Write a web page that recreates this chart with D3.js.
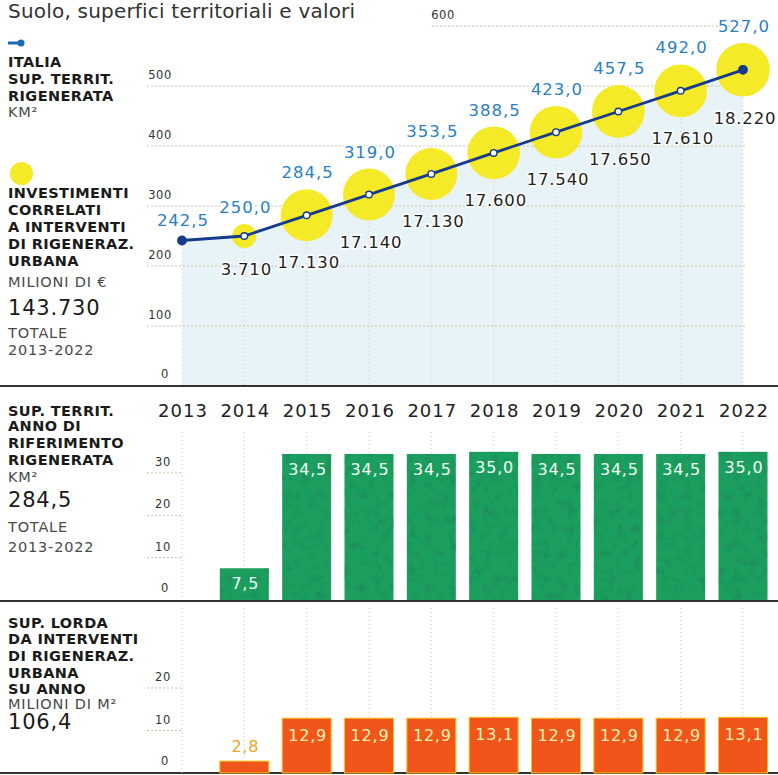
<!DOCTYPE html>
<html>
<head>
    <meta charset="UTF-8">
    <style>
        body { margin: 0; background: #fff; }
        svg { display: block; font-family: "DejaVu Sans", sans-serif; }
        .bold { font-weight: bold; font-size: 14.5px; fill: #1a1a1a; letter-spacing: 0.4px; }
        .reg { font-size: 14.5px; fill: #4a4a4a; letter-spacing: 0.8px; }
        .big { font-size: 21px; fill: #1a1a1a; letter-spacing: 0.8px; }
        .tick { font-size: 11.5px; fill: #333; letter-spacing: 0.6px; }
        .grid { stroke: #c9c3a6; stroke-width: 1; stroke-dasharray: 2,2; }
        .vgrid { stroke: #c8ced2; stroke-width: 1; stroke-dasharray: 1,3; }
    </style>
</head>
<body>
    <script src="https://cdn.jsdelivr.net/npm/d3@7"></script>
    <script>
// dati
var years = [2013, 2014, 2015, 2016, 2017, 2018, 2019, 2020, 2021, 2022];
var superficie = [242.5, 250.0, 284.5, 319.0, 353.5, 388.5, 423.0, 457.5, 492.0, 527.0];
var investimenti = [null, 3710, 17130, 17140, 17130, 17600, 17540, 17650, 17610, 18220];
var supAnnua = [null, 7.5, 34.5, 34.5, 34.5, 35.0, 34.5, 34.5, 34.5, 35.0];
var supLorda = [null, 2.8, 12.9, 12.9, 12.9, 13.1, 12.9, 12.9, 12.9, 13.1];
var ticksTop = [0, 100, 200, 300, 400, 500, 600];
var ticksMid = [0, 10, 20, 30];
var ticksBot = [0, 10, 20];

var width = 778, height = 775;
var svg = d3.select("body").append("svg").attr("width", width).attr("height", height);

// grana di stampa sulle barre verdi
var filt = svg.append("defs").append("filter").attr("id", "grana")
    .attr("x", 0).attr("y", 0).attr("width", 1).attr("height", 1);
filt.append("feTurbulence").attr("type", "fractalNoise").attr("baseFrequency", 0.12)
    .attr("numOctaves", 3).attr("seed", 7).attr("result", "noise");
filt.append("feColorMatrix").attr("in", "noise").attr("type", "matrix")
    .attr("values", "0 0 0 0 0.02  0 0 0 0 0.2  0 0 0 0 0.1  0 0 0 -1.6 0.75").attr("result", "dark");
filt.append("feComposite").attr("in", "dark").attr("in2", "SourceGraphic").attr("operator", "in").attr("result", "spots");
var fm = filt.append("feMerge");
fm.append("feMergeNode").attr("in", "SourceGraphic");
fm.append("feMergeNode").attr("in", "spots");

var fmt1 = function(v) { return v.toFixed(1).replace(".", ","); };
var fmtK = function(v) { return d3.format(",")(v).replace(/,/g, "."); };

var x = d3.scalePoint().domain(years).range([182, 743]);
var yTop = d3.scaleLinear().domain([0, 600]).range([386, 26]);
var yMid = d3.scaleLinear().domain([0, 30]).range([600, 473]);
var yBot = d3.scaleLinear().domain([0, 20]).range([773, 688]);
var r = d3.scaleSqrt().domain([0, 18220]).range([0, 26.8]);
var barW = 49;

// titolo
svg.append("text").attr("x", 8).attr("y", 18)
    .style("font-size", "20px").style("fill", "#333").style("letter-spacing", "0.2px")
    .text("Suolo, superfici territoriali e valori");

// colonna sinistra
function block(lines, x0) {
    lines.forEach(function(l) {
        svg.append("text").attr("class", l[2]).attr("x", x0).attr("y", l[1]).text(l[0]);
    });
}
svg.append("line").attr("x1", 8).attr("x2", 21).attr("y1", 43).attr("y2", 43)
    .style("stroke", "#1f67b4").style("stroke-width", 3);
svg.append("circle").attr("cx", 21).attr("cy", 43).attr("r", 3.5).style("fill", "#1f67b4");
svg.append("circle").attr("cx", 21.5).attr("cy", 173.5).attr("r", 11.5).style("fill", "#f5ea28");

block([
    ["ITALIA", 67, "bold"], ["SUP. TERRIT.", 84, "bold"], ["RIGENERATA", 101, "bold"], ["KM²", 117, "reg"],
    ["INVESTIMENTI", 198, "bold"], ["CORRELATI", 215, "bold"], ["A INTERVENTI", 232, "bold"],
    ["DI RIGENERAZ.", 249, "bold"], ["URBANA", 266, "bold"], ["MILIONI DI €", 287, "reg"],
    ["143.730", 315, "big"], ["TOTALE", 338, "reg"], ["2013-2022", 355, "reg"],
    ["SUP. TERRIT.", 416, "bold"], ["ANNO DI", 431, "bold"], ["RIFERIMENTO", 448, "bold"],
    ["RIGENERATA", 465, "bold"], ["KM²", 482, "reg"], ["284,5", 507, "big"],
    ["TOTALE", 532, "reg"], ["2013-2022", 552, "reg"],
    ["SUP. LORDA", 628, "bold"], ["DA INTERVENTI", 644, "bold"], ["DI RIGENERAZ.", 661, "bold"],
    ["URBANA", 678, "bold"], ["SU ANNO", 694, "bold"], ["MILIONI DI M²", 709, "reg"],
    ["106,4", 729, "big"]
], 8);

// ---- grafico superiore ----
var gTop = svg.append("g");
var pts = years.map(function(y, i) { return {year: y, v: superficie[i], inv: investimenti[i]}; });

gTop.append("path").datum(pts)
    .attr("d", d3.area().x(function(d) { return x(d.year); }).y0(yTop(0)).y1(function(d) { return yTop(d.v); }))
    .style("fill", "#e8f3f7");

ticksTop.slice(1).forEach(function(t) {
    gTop.append("line").attr("class", "grid")
        .attr("x1", t === 600 ? 432 : 147).attr("x2", 745)
        .attr("y1", yTop(t)).attr("y2", yTop(t));
    gTop.append("text").attr("class", "tick")
        .attr("x", t === 600 ? 443 : 160).attr("y", yTop(t) - 7)
        .attr("text-anchor", "middle").text(t);
});
gTop.append("text").attr("class", "tick").attr("x", 165).attr("y", yTop(0) - 8)
    .attr("text-anchor", "middle").text(0);

gTop.selectAll(".vg").data(pts).enter().append("line").attr("class", "vgrid")
    .attr("x1", function(d) { return x(d.year); }).attr("x2", function(d) { return x(d.year); })
    .attr("y1", function(d) { return yTop(d.v); }).attr("y2", yTop(0));

gTop.selectAll(".bubble").data(pts.filter(function(d) { return d.inv; })).enter().append("circle")
    .attr("cx", function(d) { return x(d.year); })
    .attr("cy", function(d) { return yTop(d.v); })
    .attr("r", function(d) { return r(d.inv); })
    .style("fill", "#f5ea28");

gTop.append("path").datum(pts)
    .attr("d", d3.line().x(function(d) { return x(d.year); }).y(function(d) { return yTop(d.v); }))
    .style("fill", "none").style("stroke", "#163a8c").style("stroke-width", 2.8);

gTop.selectAll(".dot").data(pts).enter().append("circle")
    .attr("cx", function(d) { return x(d.year); })
    .attr("cy", function(d) { return yTop(d.v); })
    .attr("r", function(d, i) { return (i === 0 || i === pts.length - 1) ? 4.2 : 3.3; })
    .style("fill", function(d, i) { return (i === 0 || i === pts.length - 1) ? "#163a8c" : "#fff"; })
    .style("stroke", "#163a8c").style("stroke-width", 1.4);

gTop.selectAll(".vlab").data(pts).enter().append("text")
    .attr("x", function(d) { return x(d.year) + 1; })
    .attr("y", function(d) { return yTop(d.v) - Math.max(r(d.inv || 0) + 11, 15); })
    .attr("text-anchor", "middle")
    .style("font-size", "16.5px").style("fill", "#2a80c4").style("letter-spacing", "1px")
    .style("stroke", "#fff").style("stroke-width", 3).style("paint-order", "stroke")
    .text(function(d) { return fmt1(d.v); });

gTop.selectAll(".ilab").data(pts.filter(function(d) { return d.inv; })).enter().append("text")
    .attr("x", function(d) { return x(d.year) + 2; })
    .attr("y", function(d) { return yTop(d.v) + r(d.inv) + 27; })
    .attr("text-anchor", "middle")
    .style("font-size", "16.5px").style("fill", "#1e1e1e").style("letter-spacing", "0.8px")
    .style("stroke", "#fff").style("stroke-width", 3).style("paint-order", "stroke")
    .text(function(d) { return fmtK(d.inv); });

// divisori
[386, 601, 773].forEach(function(y) {
    svg.append("line").attr("x1", 0).attr("x2", width).attr("y1", y).attr("y2", y)
        .style("stroke", "#333").style("stroke-width", 2);
});

// anni
svg.selectAll(".year").data(years).enter().append("text")
    .attr("x", function(d) { return x(d) + 1; }).attr("y", 417)
    .attr("text-anchor", "middle")
    .style("font-size", "18px").style("fill", "#222").style("letter-spacing", "1px")
    .text(function(d) { return d; });

// ---- barre ----
function barChart(vals, y, ticks, y0v, y1v, opt) {
    var g = svg.append("g");
    years.forEach(function(yr) {
        g.append("line").attr("class", "vgrid")
            .attr("x1", x(yr)).attr("x2", x(yr)).attr("y1", y1v).attr("y2", y0v);
    });
    ticks.forEach(function(t) {
        if (t > 0) g.append("line").attr("class", "grid")
            .attr("x1", 147).attr("x2", 183).attr("y1", y(t)).attr("y2", y(t));
        g.append("text").attr("class", "tick")
            .attr("x", t === 0 ? 165 : 163).attr("y", y(t) - (t === 0 ? 8 : 7))
            .attr("text-anchor", "middle").text(t);
    });
    var data = years.map(function(yr, i) { return {year: yr, v: vals[i]}; }).filter(function(d) { return d.v; });
    var bars = g.selectAll("rect").data(data).enter().append("rect")
        .attr("x", function(d) { return x(d.year) - barW / 2; })
        .attr("width", barW)
        .attr("y", function(d) { return y(d.v); })
        .attr("height", function(d) { return y(0) - y(d.v); })
        .style("fill", opt.fill).style("stroke", opt.stroke || "none").style("stroke-width", 1);
    if (opt.filter) bars.attr("filter", "url(#grana)");
    g.selectAll(".bl").data(data).enter().append("text")
        .attr("x", function(d) { return x(d.year) + 1; })
        .attr("y", function(d) { return d.v < opt.minIn ? y(d.v) - 9 : y(d.v) + opt.dy; })
        .attr("text-anchor", "middle")
        .style("font-size", "16px").style("letter-spacing", "0.8px")
        .style("fill", function(d) { return d.v < opt.minIn ? opt.outColor : opt.color; })
        .text(function(d) { return fmt1(d.v); });
}

barChart(supAnnua, yMid, ticksMid, 600, 432, {fill: "#1f9e5e", color: "#f2fff5", dy: 21, minIn: 5, outColor: "#f2fff5", filter: true});
barChart(supLorda, yBot, ticksBot, 773, 608, {fill: "#f0561a", stroke: "#f8c21a", color: "#fff2b0", dy: 23, minIn: 5, outColor: "#f1a324"});
</script>
</body>
</html>
